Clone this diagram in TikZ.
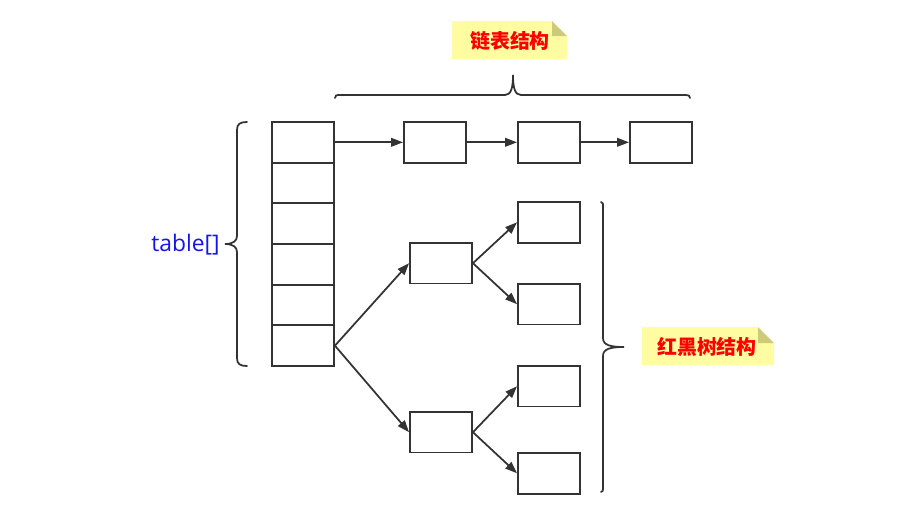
\documentclass[tikz,border=0pt]{standalone}
\usepackage{fontspec}
\setmainfont{Open Sans}
\newfontfamily\cjk{Noto Sans CJK SC}
\usetikzlibrary{arrows.meta, positioning}

\definecolor{linegray}{RGB}{51,51,51}
\definecolor{noteyellow}{RGB}{255,252,161}
\definecolor{notefold}{RGB}{205,203,122}
\definecolor{tableblue}{RGB}{20,20,235}

\tikzset{
  cell/.style={draw=linegray, line width=1.6pt, minimum width=1.86cm, minimum height=1.22cm, inner sep=0pt},
  link/.style={draw=linegray, line width=1.5pt, -{Triangle[length=0.36cm, width=0.26cm]}},
  notetext/.style={font=\cjk\bfseries\fontsize{17}{19}\selectfont, text=red, inner sep=0pt},
  bracepath/.style={draw=linegray, line width=1.5pt, line cap=round}
}

\begin{document}
\begin{tikzpicture}[x=0.03cm, y=-0.03cm]
\useasboundingbox (0,0) rectangle (914,519);

% table[] array
\foreach \i in {0,...,5}
  \node [cell] (t\i) at (303,142.3+40.67*\i) {};

% list nodes
\node [cell] (l1) at (435,142.3) {};
\node [cell] (l2) at (549,142.3) {};
\node [cell] (l3) at (661,142.3) {};
\draw [link] (t0.east) -- (l1.west);
\draw [link] (l1.east) -- (l2.west);
\draw [link] (l2.east) -- (l3.west);

% tree nodes
\node [cell] (m1) at (441,263.2) {};
\node [cell] (m2) at (441,432.2) {};
\node [cell] (r1) at (549,222.3) {};
\node [cell] (r2) at (549,304.2) {};
\node [cell] (r3) at (549,386.2) {};
\node [cell] (r4) at (549,473.3) {};
\draw [link] (t5.east) -- (m1.west);
\draw [link] (t5.east) -- (m2.west);
\draw [link] (m1.east) -- (r1.west);
\draw [link] (m1.east) -- (r2.west);
\draw [link] (m2.east) -- (r3.west);
\draw [link] (m2.east) -- (r4.west);

% braces
\draw [bracepath] (247,122) .. controls (240,122) and (237,124) .. (237,130) -- (237,236)
  .. controls (237,241) and (233,244) .. (225,244) .. controls (233,244) and (237,247) .. (237,252)
  -- (237,358) .. controls (237,364) and (240,366) .. (247,366);
\draw [bracepath] (335,98) .. controls (335,95.5) and (336,95) .. (340,95) -- (505,95)
  .. controls (511,95) and (513,88) .. (513,75) .. controls (513,88) and (515,95) .. (521,95)
  -- (685,95) .. controls (689,95) and (690,96) .. (690,98);
\draw [bracepath] (601,202) .. controls (603,203) .. (603,207) -- (603,338)
  .. controls (603,345) and (610,347) .. (624,347) .. controls (610,347) and (603,349) .. (603,356)
  -- (603,488) .. controls (603,491) .. (601,492);

\node [font=\fontsize{19.5}{22}\selectfont, text=tableblue, inner sep=0pt, anchor=east] (lbl) at (220,245) {table[]};

% notes
\fill [noteyellow] (452,21) -- (552,21) -- (567,36) -- (567,59) -- (452,59) -- cycle;
\fill [notefold] (552,21) -- (567,36) -- (552,36) -- cycle;
\node [notetext] (n1) at (510,41) {链表结构};

\fill [noteyellow] (642,327) -- (758,327) -- (774,343) -- (774,365) -- (642,365) -- cycle;
\fill [notefold] (758,327) -- (774,343) -- (758,343) -- cycle;
\node [notetext] (n2) at (707,347) {红黑树结构};

\end{tikzpicture}
\end{document}
